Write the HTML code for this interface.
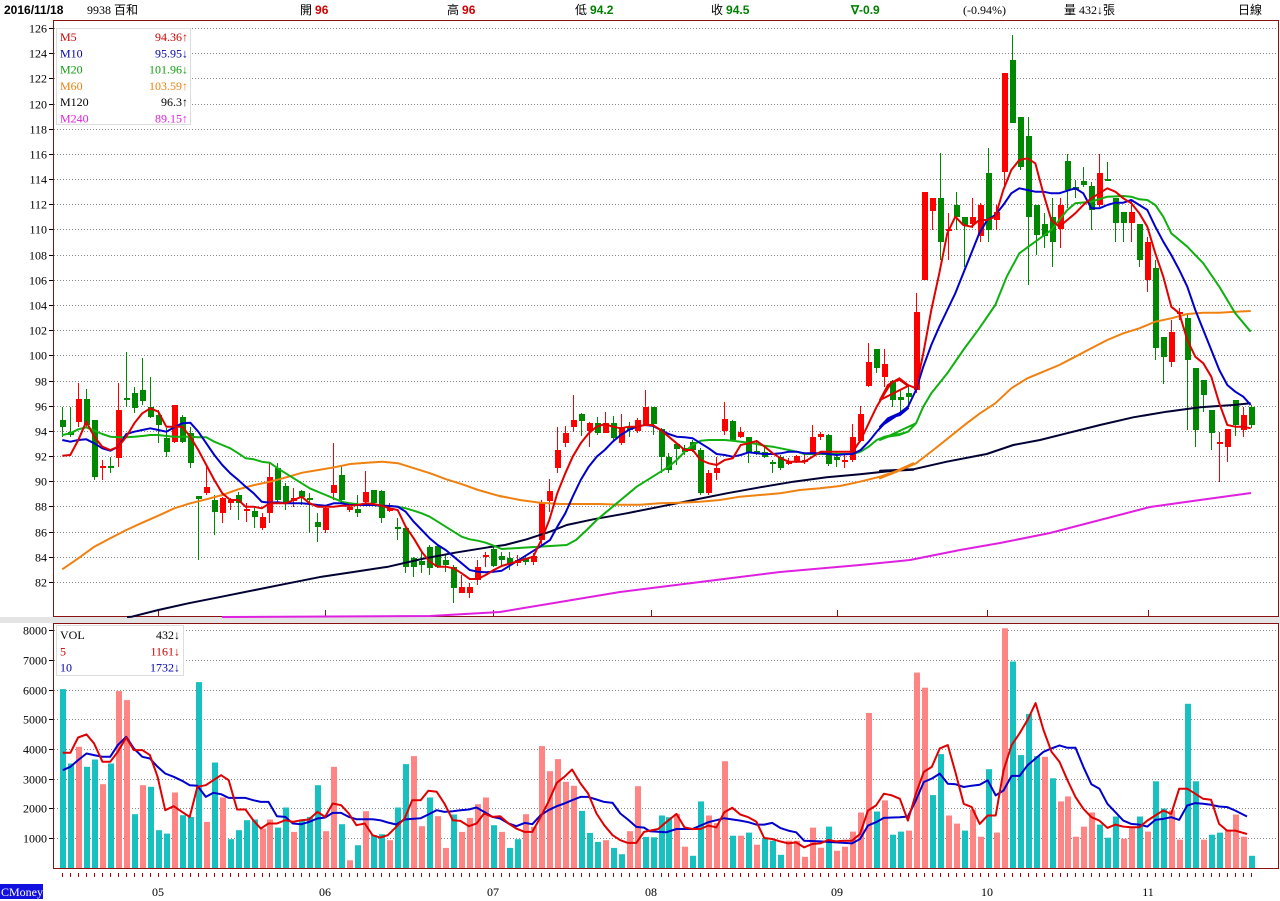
<!DOCTYPE html>
<html><head><meta charset="utf-8"><style>
body{margin:0;background:#fff;width:1280px;height:901px;overflow:hidden;font-family:"Liberation Serif","Noto Sans CJK TC",serif;}
svg{display:block}
</style></head><body>
<svg id="s" width="1280" height="901" xmlns="http://www.w3.org/2000/svg" font-family="Liberation Serif, Noto Sans CJK TC, serif" font-size="12"></svg>
<script>
const S=document.getElementById('s');let h='';
const px=i=>62+7.98*i;
const py=p=>28+(126-p)*12.59;
// header
h+='<text x="4" y="14" font-family="Liberation Sans" font-weight="bold" font-size="12">2016/11/18</text>';
h+='<text x="87" y="14" font-size="12">9938 百和</text>';
h+='<text x="300" y="14">開 <tspan fill="#d00000" font-weight="bold" font-family="Liberation Sans">96</tspan></text>';
h+='<text x="447" y="14">高 <tspan fill="#d00000" font-weight="bold" font-family="Liberation Sans">96</tspan></text>';
h+='<text x="575" y="14">低 <tspan fill="#008000" font-weight="bold" font-family="Liberation Sans">94.2</tspan></text>';
h+='<text x="711" y="14">收 <tspan fill="#008000" font-weight="bold" font-family="Liberation Sans">94.5</tspan></text>';
h+='<text x="851" y="14" fill="#008000" font-weight="bold" font-family="Liberation Sans">∇-0.9</text>';
h+='<text x="963" y="14">(-0.94%)</text>';
h+='<text x="1064" y="14">量 432↓張</text>';
h+='<text x="1238" y="14">日線</text>';
// panels
h+='<rect x="0" y="617" width="1280" height="6" fill="#e4e4e4"/>';
h+='<rect x="53.5" y="20.5" width="1225" height="596" fill="#fff" stroke="#8b1010"/>';
h+='<rect x="53.5" y="623.5" width="1225" height="245" fill="#fff" stroke="#8b1010"/>';
// price grid
for(let p=82;p<=126;p+=2){const y=Math.round(py(p))+.5;
 h+=`<line x1="54" x2="1278" y1="${y}" y2="${y}" stroke="#888" stroke-dasharray="1,2"/>`;
 h+=`<line x1="49" x2="53" y1="${y}" y2="${y}" stroke="#000"/>`;
 h+=`<text x="47" y="${y+4}" text-anchor="end" font-size="12">${p}</text>`;}
// volume grid
for(let v=1;v<=8;v++){const y=Math.round(867.7-v*29.7)+.5;
 h+=`<line x1="54" x2="1278" y1="${y}" y2="${y}" stroke="#888" stroke-dasharray="1,2"/>`;
 h+=`<line x1="49" x2="53" y1="${y}" y2="${y}" stroke="#000"/>`;
 h+=`<text x="47" y="${y+4}" text-anchor="end" font-size="12">${v*1000}</text>`;}
// month ticks & labels
const months=[[158,'05'],[325,'06'],[493,'07'],[651,'08'],[837,'09'],[987,'10'],[1148,'11']];
for(const [x,l] of months){h+=`<line x1="${x}.5" x2="${x}.5" y1="610" y2="617" stroke="#8b1010"/>`;
 h+=`<text x="${x}" y="896" text-anchor="middle" font-size="12">${l}</text>`;}
for(let i=0;i<150;i++){const x=Math.round(px(i))+.5;h+=`<line x1="${x}" x2="${x}" y1="873" y2="877" stroke="#a00"/>`;}
h+='<rect x="0" y="884" width="43" height="15" fill="#1010e0"/><text x="1" y="896" fill="#fff" font-size="12">CMoney</text>';
// candles
const C=[['g',420,427,407,437],['g',432,435,407,437],['r',399,422,383,427],['g',399,425,389,427],['g',420,477,420,480],['r',466,468,460,480],['g',466,468,457,473],['r',410,458,383,467],['g',398,400,352,407],['g',393,408,387,413],
['g',390,401,358,405],['g',407,417,377,418],['g',415,425,410,443],['g',438,452,428,457],['r',405,442,405,443],['g',417,442,415,443],['g',433,463,427,468],['g',496,499,496,560],['r',487,493,467,495],['g',500,512,495,535],
['r',498,513,497,523],['r',500,503,498,510],['g',495,503,492,520],['r',509,511,503,522],['g',511,517,507,528],['r',517,528,513,530],['r',477,513,463,523],['g',468,500,463,503],['g',486,502,483,510],['r',498,501,488,507],
['g',491,497,490,505],['g',498,500,493,533],['g',522,527,513,542],['r',508,530,507,533],['r',485,493,443,500],['g',475,500,465,503],['r',507,510,503,512],['g',509,513,495,517],['r',492,502,471,503],['g',490,503,490,505],
['g',491,518,490,523],['r',508,511,503,512],['g',527,529,518,540],['g',528,567,527,573],['g',558,567,557,577],['g',561,565,550,573],['g',547,568,545,575],['g',546,567,545,568],['g',560,565,555,572],['g',567,588,565,603],
['r',587,593,575,593],['r',587,593,583,598],['r',567,580,560,585],['r',555,557,552,567],['g',549,566,545,567],['g',556,560,552,566],['g',558,564,552,570],['r',560,563,555,566],['g',558,562,555,565],['r',556,562,553,565],
['r',502,540,500,545],['r',491,501,479,512],['r',450,468,427,473],['r',433,443,426,447],['r',420,427,395,432],['g',414,421,413,436],['r',423,431,422,447],['g',423,433,417,435],['r',423,433,412,433],['g',423,438,416,440],
['r',427,443,414,445],['g',427,430,422,437],['r',420,431,418,433],['r',407,424,390,425],['g',407,424,407,435],['g',429,457,428,473],['g',457,470,453,473],['g',444,449,443,465],['g',448,452,445,455],['g',442,450,440,452],
['g',450,493,448,495],['r',473,493,470,495],['r',468,473,457,480],['r',419,431,402,435],['g',421,440,420,440],['r',432,437,427,438],['g',437,453,437,463],['g',451,454,440,455],['g',452,457,447,458],['g',462,464,460,473],
['g',457,468,455,470],['r',462,463,458,465],['r',456,462,455,463],['r',460,462,455,464],['r',437,453,425,453],['r',434,437,432,440],['g',435,464,434,466],['g',457,460,452,467],['r',460,461,453,468],['r',437,460,424,462],
['r',414,441,406,442],['r',362,386,343,387],['g',349,368,349,373],['r',364,377,349,387],['g',381,400,380,407],['g',397,400,390,412],['g',393,397,385,405],['r',312,390,293,393],['r',192,280,192,280],['r',198,211,198,230],
['g',198,242,153,260],['r',229,231,213,260],['g',205,217,192,230],['g',217,225,217,267],['r',217,224,198,228],['r',205,236,203,242],['g',173,230,148,242],['r',212,220,205,230],['r',73,172,73,187],['g',60,123,35,123],
['g',117,167,117,170],['g',136,217,117,285],['g',205,235,205,255],['g',224,236,213,248],['g',217,242,198,267],['r',205,229,198,248],['g',161,190,154,208],['g',187,190,180,198],['g',181,185,167,187],['g',186,210,182,230],
['r',173,205,154,207],['g',179,181,162,181],['g',198,223,198,242],['g',212,223,212,242],['r',212,223,200,242],['g',224,260,224,267],['r',242,280,237,292],['g',268,348,260,360],['g',337,357,337,384],['r',332,362,320,367],
['r',312,314,308,320],['g',318,360,313,430],['g',368,430,368,447],['g',380,395,380,412],['g',410,433,410,450],['r',442,444,432,482],['r',429,447,429,462],['g',400,425,400,436],['r',415,430,407,437],['g',407,425,405,428]];
C.forEach((c,i)=>{const x=Math.round(px(i));const col=c[0]=='r'?'#ff0000':'#008800';
 h+=`<line x1="${x+.5}" x2="${x+.5}" y1="${c[3]}" y2="${c[4]}" stroke="${col}"/>`;
 h+=`<rect x="${x-2}" y="${c[1]}" width="6" height="${Math.max(2,c[2]-c[1])}" fill="${col}"/>`;});
// MA lines
function conv(z,pts){return pts.map(([X,Y])=>z==5?[55+X/3,340+Y/3]:z==6?[500+X/3,280+Y/3]:[880+X/3,20+Y/3]);}
function line(pts,col,w){h+=`<polyline fill="none" stroke="${col}" stroke-width="${w}" stroke-linejoin="round" points="${pts.map(p=>p[0].toFixed(1)+','+p[1].toFixed(1)).join(' ')}"/>`;}
const M240=[[222,617],[430,616],[500,612],[560,602],[620,592],[700,582],[780,572],[860,565],[910,560],[960,550],[1000,543],[1050,533],[1100,520],[1150,507],[1200,500],[1251,493]];
line(M240,'#e020e0',2);
const M120=[[127,617]].concat(conv(5,[[230,830],[310,810],[400,790],[500,770],[600,750],[700,730],[800,710],[900,695],[1000,680],[1100,657],[1200,638],[1300,622],[1350,615]]),conv(6,[[80,778],[150,755],[200,735],[280,718],[380,700],[480,680],[580,660],[680,640],[780,622],[880,605],[980,592],[1080,583],[1180,572],[1240,569]]),conv(7,[[0,1352],[100,1348],[200,1325],[320,1302],[400,1275],[480,1260],[560,1240],[660,1215],[760,1192],[860,1175],[960,1162],[1060,1155],[1112,1150]]));
line(M120,'#000033',2);
const M60=conv(5,[[22,688],[70,655],[118,620],[166,595],[214,570],[262,548],[310,527],[358,505],[406,490],[454,478],[502,465],[550,448],[598,435],[646,425],[694,412],[742,398],[790,390],[838,382],[886,372],[934,368],[982,365],[1030,370],[1078,385],[1126,400],[1174,418],[1222,433],[1270,450],[1340,470]]).concat(conv(6,[[0,648],[60,660],[120,668],[180,672],[240,672],[300,672],[360,674],[420,674],[480,670],[540,668],[600,665],[660,660],[720,650],[780,645],[840,640],[900,630],[960,625],[1020,618],[1080,605],[1140,590],[1200,570],[1240,550]]),conv(7,[[0,1375],[50,1355],[108,1330],[160,1290],[210,1250],[260,1210],[300,1180],[346,1150],[394,1105],[442,1075],[490,1055],[538,1035],[586,1010],[634,985],[682,960],[730,940],[778,925],[826,905],[874,895],[922,882],[970,878],[1018,878],[1066,875],[1112,873]]));
line(M60,'#f08010',2);
const M20=conv(5,[[22,285],[46,280],[70,268],[94,262],[118,272],[142,282],[166,290],[190,292],[214,292],[238,290],[262,288],[286,285],[310,285],[334,288],[358,290],[382,290],[406,290],[430,292],[454,292],[478,305],[502,315],[526,325],[550,340],[572,355],[596,358],[620,365],[644,368],[668,385],[692,400],[716,415],[740,430],[764,445],[788,455],[812,465],[836,475],[860,485],[884,490],[908,493],[932,495],[956,495],[980,497],[1004,498],[1028,500],[1052,505],[1076,512],[1100,520],[1124,530],[1148,545],[1172,560],[1196,575],[1220,590],[1244,598],[1268,602],[1292,608],[1316,617],[1340,627]]).concat(conv(6,[[200,795],[228,780],[260,750],[290,720],[314,700],[338,680],[362,660],[386,640],[410,620],[434,605],[458,590],[482,575],[506,560],[530,540],[554,515],[578,495],[602,482],[626,480],[650,480],[674,480],[698,482],[722,485],[746,488],[770,492],[794,497],[818,500],[842,505],[866,510],[890,515],[914,522],[938,522],[962,522],[986,522],[1010,522],[1034,522],[1058,522],[1082,515],[1106,500],[1130,480],[1154,470],[1176,465],[1200,462],[1224,455],[1248,430]]),conv(7,[[0,1260],[24,1250],[58,1245],[84,1235],[108,1210],[130,1160],[154,1120],[202,1060],[250,990],[298,925],[346,855],[380,770],[418,700],[466,665],[514,630],[538,600],[562,570],[586,550],[634,545],[682,530],[730,528],[754,530],[778,538],[802,540],[826,555],[850,590],[874,640],[922,680],[970,730],[1018,800],[1066,880],[1112,935]]));
line(M20,'#10b010',2);
const M10=conv(5,[[22,300],[46,305],[70,300],[94,298],[118,310],[142,325],[166,332],[190,320],[214,282],[238,275],[262,270],[286,265],[310,270],[334,275],[358,262],[382,250],[406,248],[430,275],[454,310],[478,345],[502,375],[526,400],[550,420],[572,440],[596,460],[620,485],[644,488],[668,487],[692,490],[716,490],[740,490],[764,492],[788,495],[812,497],[836,490],[860,490],[884,495],[908,495],[932,495],[956,495],[980,497],[1004,498],[1028,500],[1052,515],[1076,545],[1100,570],[1124,595],[1148,615],[1172,630],[1196,650],[1220,670],[1244,690],[1268,695],[1292,697],[1316,695],[1340,692]]).concat(conv(6,[[120,800],[150,780],[172,740],[196,700],[218,650],[242,600],[266,560],[290,530],[314,510],[338,485],[362,465],[386,450],[410,440],[434,435],[458,437],[482,450],[506,462],[530,470],[554,472],[578,475],[602,490],[626,505],[650,522],[674,525],[698,530],[722,525],[746,517],[770,520],[794,522],[818,522],[842,520],[866,515],[890,515],[914,520],[938,520],[962,520],[986,522],[1010,525],[1034,523],[1058,522],[1082,510],[1106,485],[1130,455],[1154,430],[1176,412],[1200,405],[1224,385]]),conv(7,[[0,1220],[24,1195],[58,1180],[84,1160],[108,1110],[130,1040],[154,975],[178,920],[202,870],[226,820],[250,760],[274,700],[298,640],[322,600],[346,585],[370,555],[394,520],[418,505],[442,510],[466,515],[490,515],[514,520],[538,520],[562,512],[586,505],[610,520],[634,565],[658,565],[682,555],[706,548],[730,548],[754,540],[778,555],[802,570],[826,620],[850,665],[874,705],[898,750],[922,800],[946,870],[970,930],[994,990],[1018,1050],[1042,1095],[1066,1115],[1090,1130],[1112,1155]]));
line(M10,'#0000cc',2);
const M5=conv(5,[[22,347],[46,345],[70,300],[94,245],[118,290],[142,320],[166,330],[190,320],[214,290],[238,250],[262,220],[286,205],[310,215],[334,260],[358,260],[382,260],[406,290],[430,330],[454,375],[478,420],[502,460],[526,480],[550,480],[572,500],[596,500],[620,505],[644,490],[668,490],[692,490],[716,480],[740,470],[764,490],[788,500],[812,500],[836,500],[860,497],[884,497],[908,495],[932,490],[956,492],[980,497],[1004,505],[1028,510],[1052,560],[1076,595],[1100,635],[1124,665],[1148,680],[1172,680],[1196,685],[1220,700],[1244,717],[1268,717],[1292,705],[1316,690],[1340,678]]).concat(conv(6,[[100,830],[124,780],[148,720],[172,640],[196,580],[218,530],[242,490],[266,460],[290,440],[314,432],[338,440],[362,445],[386,440],[410,440],[434,435],[458,435],[482,450],[506,470],[530,490],[554,510],[578,510],[602,540],[626,550],[650,555],[674,540],[698,535],[722,495],[746,490],[770,483],[794,500],[818,520],[842,535],[866,545],[890,545],[914,545],[938,530],[962,515],[986,515],[1010,515],[1034,515],[1058,515],[1082,480],[1106,430],[1130,380],[1154,340],[1176,305],[1200,300],[1224,318]]),conv(7,[[0,1140],[24,1095],[58,1075],[84,1095],[108,1105],[130,1000],[154,870],[178,760],[202,640],[226,590],[250,615],[274,620],[298,600],[322,600],[346,590],[370,510],[394,450],[418,420],[442,415],[466,430],[490,520],[514,600],[538,620],[562,600],[586,580],[610,555],[634,535],[658,520],[682,505],[706,515],[730,535],[754,550],[778,580],[802,620],[826,700],[850,770],[874,860],[898,880],[922,960],[946,1010],[970,1030],[994,1070],[1018,1150],[1042,1215],[1066,1220],[1090,1220],[1112,1225]]));
line(M5,'#e00000',2);
// volume
const V1='t207 t430 p380 t440 t418 p492 t430 p213 p240 t582 p495 t500 t630 t640 p517 t585 t590 t186 p605 t427 p532 t657 t630 t600 t598 p625 p598 t622 t562 p635 t598 t590 t495 p633 p440 t612 p720 t675 p573 t645 t642 p660 t562 t432 p408 p618 t532 p588 p683 t583 p635 p593 p552 p532 t615 p635 t683 t657 p582 p620 p378 p453 p417 p485 p497 t572 t638 t665 p660 t683 t702 p633 p498 t650'.split(' ');
const V2='t650 t585 t590 p580 p678 t705 t543 p585 p608 p423 t645 p645 t636 p672 t652 t660 t702 p660 p660 p708 p621 p681 t618 p690 p678 p633 p576 p279 t573 p540 t642 t633 p630 p159 p204 t524 t402 p585 p609 t630 p567 p648 t447 p636 p27 t126 t405 t282 t408 p410 t474 p543 p528 p648 p618 p576 t612 t651 t588 p654 p621 t588 p633 t483 t564 p570 p657 t252 t483 p657 t642 t636 p627 p582 p648 t705'.split(' ');
const vy1=Y=>630+(Y-30)*0.3337, vy2=Y=>630+(Y-32)*0.3355;
const bars=V1.map(s=>[s[0],vy1(+s.slice(1))]).concat(V2.map(s=>[s[0],vy2(+s.slice(1))]));
bars.forEach((b,i)=>{const x=Math.round(px(i));h+=`<rect x="${x-2}" y="${b[1].toFixed(1)}" width="6" height="${(868-b[1]).toFixed(1)}" fill="${b[0]=='t'?'#18c0c0':'#ff8585'}"/>`;});
function vconv8(a){return a.map(([X,Y])=>[px((X-20)/20.87),vy1(Y)]);}
function vconv9(a){return a.map(([X,Y])=>[px(74+(X-6)/20),vy2(Y)]);}
const VB=vconv8([[22,450],[42,440],[62,420],[84,400],[104,405],[126,410],[146,410],[166,375],[188,350],[208,385],[230,410],[250,415],[270,440],[290,460],[312,470],[334,482],[354,495],[374,497],[396,530],[416,518],[436,522],[456,533],[478,533],[500,533],[520,540],[540,545],[560,545],[582,588],[604,590],[624,610],[646,612],[666,605],[688,595],[708,592],[728,578],[750,578],[770,590],[790,597],[812,597],[832,597],[852,600],[872,607],[894,613],[916,598],[936,596],[958,594],[978,583],[1000,570],[1020,575],[1042,573],[1062,570],[1084,568],[1104,562],[1124,575],[1146,590],[1166,595],[1188,610],[1208,618],[1230,608],[1250,612],[1272,585],[1292,570],[1314,558],[1334,550],[1354,540],[1376,530],[1396,530],[1418,538],[1438,545],[1460,548],[1480,580],[1500,598],[1522,620],[1542,622]]).concat(vconv9([[0,632],[40,635],[66,625],[106,625],[146,605],[186,593],[226,600],[246,605],[266,612],[286,612],[306,607],[326,622],[346,630],[366,635],[386,660],[426,662],[466,665],[506,668],[526,655],[546,615],[566,605],[586,592],[626,590],[646,588],[666,540],[686,485],[706,475],[726,460],[746,490],[766,492],[786,500],[806,496],[826,493],[846,480],[866,525],[886,510],[906,467],[926,467],[946,435],[966,415],[986,395],[1006,385],[1026,376],[1046,383],[1066,383],[1086,440],[1106,492],[1126,505],[1146,550],[1166,575],[1186,600],[1206,610],[1226,612],[1246,618],[1266,598],[1286,595],[1306,590],[1326,598],[1346,555],[1366,548],[1386,550],[1406,553],[1426,558],[1446,560],[1466,570],[1496,588]]));
const VR=vconv8([[22,398],[42,398],[62,352],[84,343],[104,370],[126,425],[146,425],[166,395],[188,352],[208,390],[230,390],[250,405],[270,470],[290,570],[312,558],[334,575],[354,590],[374,500],[396,495],[416,480],[436,465],[456,480],[478,568],[500,568],[520,600],[540,625],[560,610],[582,610],[604,600],[624,605],[646,600],[666,598],[688,575],[708,590],[728,550],[750,555],[770,580],[790,615],[812,610],[832,645],[852,652],[872,645],[894,620],[916,595],[936,540],[958,540],[978,512],[1000,515],[1020,550],[1042,600],[1062,602],[1084,618],[1104,610],[1124,580],[1146,590],[1166,588],[1188,610],[1208,625],[1230,635],[1250,635],[1272,590],[1292,545],[1314,488],[1334,470],[1354,448],[1376,490],[1396,520],[1418,580],[1438,615],[1460,645],[1480,660],[1500,668],[1522,668],[1542,635]]).concat(vconv9([[0,630],[20,625],[40,605],[66,580],[86,620],[106,625],[126,625],[146,615],[166,620],[186,575],[206,562],[226,582],[246,590],[266,603],[286,652],[306,655],[326,662],[346,668],[366,665],[386,680],[406,670],[426,668],[446,658],[466,662],[486,660],[506,660],[526,640],[546,570],[566,555],[586,520],[606,525],[626,535],[646,600],[666,520],[686,455],[706,440],[726,385],[746,375],[766,460],[786,550],[806,560],[826,610],[846,585],[866,585],[886,450],[906,375],[926,340],[946,300],[966,250],[986,330],[1006,395],[1026,425],[1046,480],[1066,530],[1086,565],[1106,590],[1126,600],[1146,622],[1166,612],[1186,618],[1206,620],[1226,620],[1246,600],[1266,585],[1286,570],[1306,580],[1326,505],[1346,505],[1366,520],[1386,535],[1406,538],[1426,610],[1446,630],[1466,630],[1496,640]]));
line(VB,'#0000cc',2);line(VR,'#e00000',2);
// legends
h+='<rect x="56.5" y="28.5" width="134" height="96" fill="#fff" stroke="#ddd"/>';
const L=[['M5','94.36↑','#d00000'],['M10','95.95↓','#0000b0'],['M20','101.96↓','#10a010'],['M60','103.59↑','#f08010'],['M120','96.3↑','#000'],['M240','89.15↑','#e020e0']];
L.forEach((l,k)=>{const y=41+k*16.3;h+=`<text x="60" y="${y}" fill="${l[2]}">${l[0]}</text><text x="188" y="${y}" fill="${l[2]}" text-anchor="end">${l[1]}</text>`;});
h+='<rect x="56.5" y="625.5" width="127" height="50" fill="#fff" stroke="#ddd"/>';
[['VOL','432↓','#000'],['5','1161↓','#d00000'],['10','1732↓','#0000b0']].forEach((l,k)=>{const y=639+k*16.3;h+=`<text x="60" y="${y}" fill="${l[2]}">${l[0]}</text><text x="180" y="${y}" fill="${l[2]}" text-anchor="end">${l[1]}</text>`;});
S.innerHTML=h;
</script>
</body></html>
